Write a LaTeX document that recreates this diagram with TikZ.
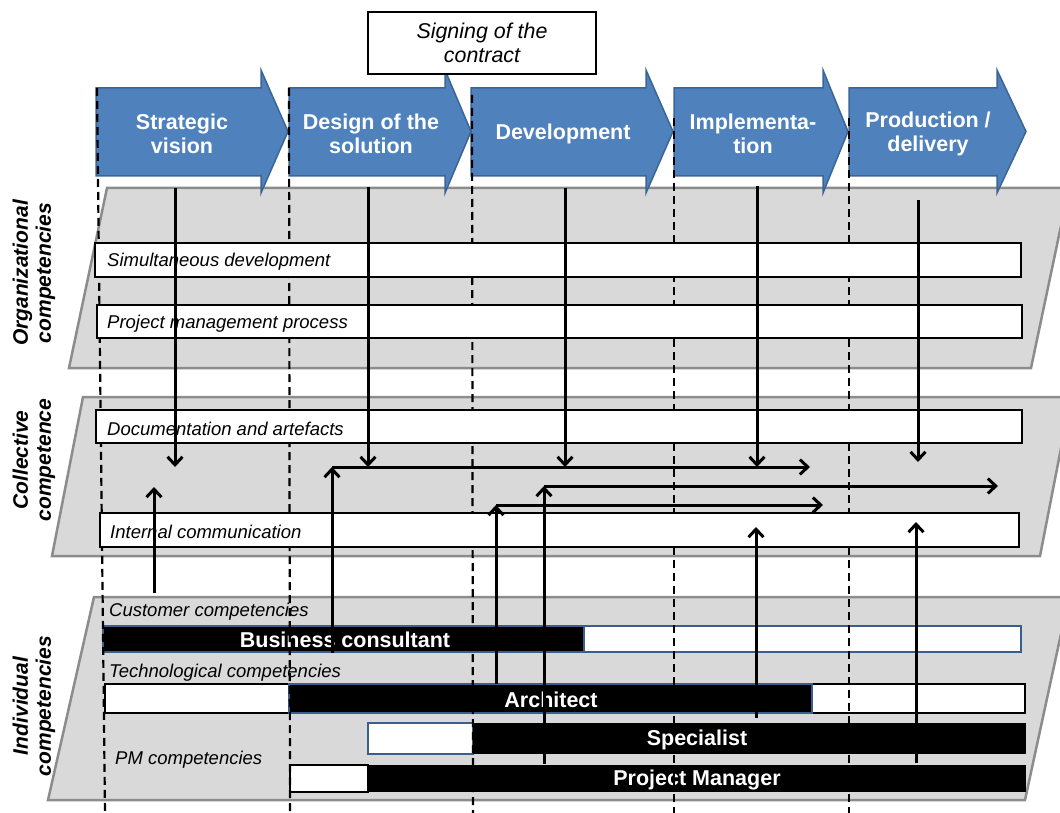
\documentclass[tikz,border=0pt]{standalone}
\usepackage{fontspec}
\setmainfont{Liberation Sans}
\usepackage{tikz}
\usetikzlibrary{arrows.meta}

\definecolor{phaseblue}{HTML}{4F81BD}
\definecolor{phaseedge}{HTML}{3A6594}
\definecolor{panelgray}{HTML}{D9D9D9}
\definecolor{paneledge}{HTML}{8C8C8C}
\definecolor{baredge}{HTML}{3A5F8F}

\tikzset{
  phase/.style={fill=phaseblue, draw=phaseedge, line width=1.5pt, line join=miter},
  phasetext/.style={text=white, align=center, inner sep=0pt,
    font=\fontsize{21.5}{24}\selectfont\bfseries},
  panel/.style={fill=panelgray, draw=paneledge, line width=2.5pt},
  sidetext/.style={rotate=90, align=center, inner sep=0pt,
    font=\fontsize{21}{23}\selectfont\bfseries\itshape},
  whitebox/.style={draw, fill=white, line width=2pt, anchor=north west, inner sep=0pt},
  boxtext/.style={anchor=west, inner sep=0pt, font=\fontsize{18.5}{22}\selectfont\itshape},
  bartext/.style={text=white, inner sep=0pt, font=\fontsize{21.5}{24}\selectfont\bfseries},
  phaseline/.style={line width=2.2pt, dash pattern=on 8pt off 5pt},
  conn/.style={line width=3pt, -{Straight Barb[length=8pt,width=15pt]}},
}

\begin{document}
\begin{tikzpicture}[x=1pt, y=-1pt]
  \useasboundingbox (0,0) rectangle (1060,813);

  % -------------------------------------------------------
  % 1. Competence layers (slanted gray bands)
  % -------------------------------------------------------
  \draw[panel] (107,188) -- (1069,188) -- (1031,368) -- (69,368) -- cycle;
  \draw[panel] (83,397) -- (1071,397) -- (1040,556) -- (52,556) -- cycle;
  \draw[panel] (94,597) -- (1069,597) -- (1025,800) -- (48,800) -- cycle;

  \node[sidetext] (orglab) at (34,273) {Organizational\\competencies};
  \node[sidetext] (collab) at (34,460) {Collective\\competence};
  \node[sidetext] (indlab) at (34,706) {Individual\\competencies};

  % -------------------------------------------------------
  % 2. Project phases (block arrows)
  % -------------------------------------------------------
  % left edge / head base / tip / label centre
  \foreach \L/\B/\T/\cx/\txt [count=\i] in {
      96/261/288/182/{Strategic\\vision},
      289/445/471/371/{Design of the\\solution},
      471/646/673/563/{Development},
      674/823/848/753/{Implementa-\\tion},
      849/997/1026/928/{Production /\\delivery}} {
    \draw[phase] (\L,88) -- (\B,88) -- (\B,70) -- (\T,131.5)
      -- (\B,193) -- (\B,176) -- (\L,176) -- cycle;
    \node[phasetext] (ph\i) at (\cx,133.5) {\txt};
  }

  \node[draw, fill=white, line width=1.5pt, minimum width=228, minimum height=62,
    align=center, inner sep=0pt, font=\fontsize{21.4}{24}\selectfont\itshape]
    (sign) at (482,43) {Signing of the\\contract};

  % -------------------------------------------------------
  % 3. Individual roles (bars)
  % -------------------------------------------------------
  \node[boxtext] (custlab) at (109,612) {Customer competencies};
  \node[boxtext] (techlab) at (109,673) {Technological competencies};
  \node[boxtext] (pmlab) at (115,760) {PM competencies};

  % Business consultant
  \draw[fill=white, draw=baredge, line width=1.5pt] (584,626) rectangle (1021,652);
  \draw[fill=black, draw=baredge, line width=1.5pt] (103,626) rectangle (584,652);
  \node[bartext] (bcons) at (345,640) {Business consultant};
  % Architect
  \draw[fill=white, line width=1.5pt] (105,684) rectangle (289,713);
  \draw[fill=white, line width=1.5pt] (812,684) rectangle (1025,713);
  \draw[fill=black, draw=baredge, line width=1.5pt] (289,684) rectangle (812,713);
  \node[bartext] (arch) at (551,700) {Architect};
  % Specialist
  \draw[fill=white, draw=baredge, line width=1.5pt] (368,723) rectangle (473,754);
  \fill[black] (473,723) rectangle (1026,754);
  \node[bartext] (spec) at (697,740) {Specialist};
  % Project Manager
  \draw[fill=white, line width=1.5pt] (290,765) rectangle (368,792);
  \fill[black] (368,765) rectangle (1026,792);
  \node[bartext] (pman) at (697,780) {Project Manager};

  % -------------------------------------------------------
  % 4. Phase boundaries
  % -------------------------------------------------------
  \foreach \xa/\ya/\xb in {97/88/105, 289/88/290, 472/95/473, 674/118/674, 849/118/849} {
    \draw[phaseline] (\xa,\ya) -- (\xb,813);
  }

  % -------------------------------------------------------
  % 5. Organizational and collective supports
  % -------------------------------------------------------
  \node[whitebox, minimum width=926, minimum height=34] (simdev) at (94,242) {};
  \node[whitebox, minimum width=925, minimum height=33] (pmproc) at (96,304) {};
  \node[whitebox, minimum width=926, minimum height=33] (docart) at (95,409) {};
  \node[whitebox, minimum width=919, minimum height=34] (intcom) at (99,512) {};
  \node[boxtext] at ([xshift=13pt, yshift=-2pt]simdev.west) {Simultaneous development};
  \node[boxtext] at ([xshift=11pt, yshift=-2pt]pmproc.west) {Project management process};
  \node[boxtext] at ([xshift=12pt, yshift=-2pt]docart.west) {Documentation and artefacts};
  \node[boxtext] at ([xshift=11pt, yshift=-2pt]intcom.west) {Internal communication};

  % -------------------------------------------------------
  % 6. Flows between the levels
  % -------------------------------------------------------
  % from the phases down to the collective level
  \foreach \x/\ya/\yb [count=\i] in {175/188/467, 368/187/467, 565/188/467,
      757/186/467, 918/200/462} {
    \coordinate (dtop\i) at (\x,\ya);
    \coordinate (dtip\i) at (\x,\yb);
    \draw[conn] (dtop\i) -- (dtip\i);
  }
  % from the roles up, then along the phases
  \foreach \x/\ya/\yb/\xe [count=\i] in {332/653/467/810, 544/764/486/998, 496/684/505/823} {
    \coordinate (ufoot\i) at (\x,\ya);
    \coordinate (corner\i) at (\x,\yb);
    \coordinate (hend\i) at (\xe,\yb);
    \draw[conn] (ufoot\i) -- (corner\i);
    \draw[conn] (corner\i) -- (hend\i);
  }
  % from the roles up to the collective level
  \foreach \x/\ya/\yb [count=\i] in {154/593/487, 756/718/527, 916/763/522} {
    \coordinate (ubase\i) at (\x,\ya);
    \coordinate (utip\i) at (\x,\yb);
    \draw[conn] (ubase\i) -- (utip\i);
  }
\end{tikzpicture}
\end{document}
